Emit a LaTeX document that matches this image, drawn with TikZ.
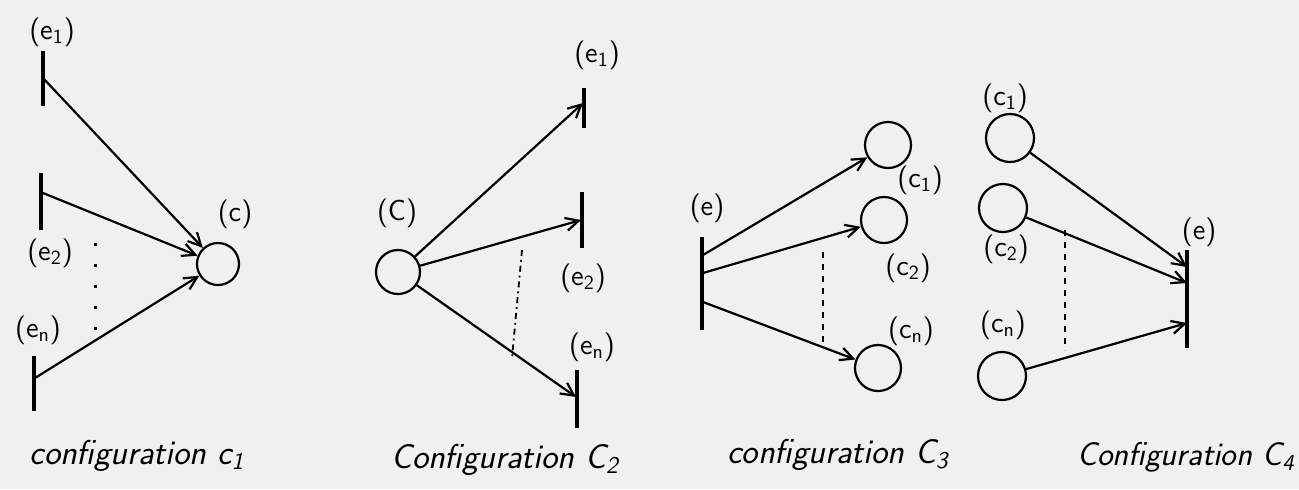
\documentclass[tikz,border=0pt]{standalone}
\usetikzlibrary{arrows.meta}
\begin{document}
\begin{tikzpicture}[x=0.5pt,y=-0.5pt,
  place/.style={draw,circle,line width=1.1pt,inner sep=0pt},
  bar/.style={fill=black,inner sep=0pt,minimum width=1.8pt},
  arc/.style={-{Straight Barb[length=6.5pt,width=6.5pt]},line width=1.1pt},
  lbl/.style={font=\sffamily\Large},
  captext/.style={font=\sffamily\itshape\LARGE},
  gap/.style={line width=1.1pt,dashed}
]
\useasboundingbox[fill=black!6] (0,0) rectangle (1299,489);

% configuration c1
\node[bar,minimum height=27.5pt] (bar-e1) at (43,78) {};
\node[bar,minimum height=28.5pt] (bar-e2) at (41,201) {};
\node[bar,minimum height=27.5pt] (bar-en) at (34,383) {};
\node[place,minimum size=21pt] (c) at (218,264) {};
\coordinate (e1-out) at (43,78);
\coordinate (e2-out) at (43,193);
\coordinate (en-out) at (35,378);
\node[lbl] (l-e1) at (52,32) {(e\textsubscript{1})};
\node[lbl] (l-e2) at (50,253) {(e\textsubscript{2})};
\node[lbl] (l-en) at (38,330) {(e\textsubscript{n})};
\node[lbl] (l-c) at (235,214) {(c)};
\draw[arc] (e1-out) -- (c);
\draw[arc] (e2-out) -- (c);
\draw[arc] (en-out) -- (c);
\coordinate (dots-top) at (95,243);
\coordinate (dots-bot) at (95,340);
\draw[line width=1.5pt,dash pattern=on 1.5pt off 9pt] (dots-top) -- (dots-bot);
\node[captext] (cap1) at (137,456) {configuration c\textsubscript{1}};

% configuration C2
\node[place,minimum size=22pt] (c2) at (398,272) {};
\node[bar,minimum height=20pt] (bar2-e1) at (584,108) {};
\node[bar,minimum height=28pt] (bar2-e2) at (582,220) {};
\node[bar,minimum height=29pt] (bar2-en) at (577,399) {};
\coordinate (e1-in) at (583,103);
\coordinate (e2-in) at (581,220);
\coordinate (en-in) at (576,397);
\node[lbl] (l2-c) at (397,213) {(C)};
\node[lbl] (l2-e1) at (597,55) {(e\textsubscript{1})};
\node[lbl] (l2-e2) at (583,278) {(e\textsubscript{2})};
\node[lbl] (l2-en) at (592,347) {(e\textsubscript{n})};
\draw[arc] (c2) -- (e1-in);
\draw[arc] (c2) -- (e2-in);
\draw[arc] (c2) -- (en-in);
\coordinate (dash2-top) at (522,250);
\coordinate (dash2-bot) at (512,358);
\draw[line width=0.9pt,dash dot] (dash2-top) -- (dash2-bot);
\node[captext] (cap2) at (505,460) {Configuration C\textsubscript{2}};

% configuration C3
\node[bar,minimum width=2.4pt,minimum height=46.5pt] (bar3-e) at (702,283) {};
\coordinate (e-out1) at (703,255);
\coordinate (e-out2) at (703,273);
\coordinate (e-out3) at (703,302);
\node[place,minimum size=23pt] (c3-1) at (888,145) {};
\node[place,minimum size=23pt] (c3-2) at (884,220) {};
\node[place,minimum size=23pt] (c3-n) at (878,368) {};
\node[lbl] (l3-e) at (707,208) {(e)};
\node[lbl] (l3-c1) at (920,180) {(c\textsubscript{1})};
\node[lbl] (l3-c2) at (908,268) {(c\textsubscript{2})};
\node[lbl] (l3-cn) at (911,331) {(c\textsubscript{n})};
\draw[arc] (e-out1) -- (c3-1);
\draw[arc] (e-out2) -- (c3-2);
\draw[arc] (e-out3) -- (c3-n);
\coordinate (dash3-top) at (823,252);
\coordinate (dash3-bot) at (823,342);
\draw[gap] (dash3-top) -- (dash3-bot);
\node[captext] (cap3) at (838,455) {configuration C\textsubscript{3}};

% configuration C4
\node[place,minimum size=24pt] (c4-1) at (1010,138) {};
\node[place,minimum size=24pt] (c4-2) at (1003,208) {};
\node[place,minimum size=24pt] (c4-n) at (1002,376) {};
\node[bar,minimum width=2.4pt,minimum height=49pt] (bar4-e) at (1187,299) {};
\coordinate (e-in1) at (1187,267);
\coordinate (e-in2) at (1187,283);
\coordinate (e-in3) at (1187,323);
\node[lbl] (l4-c1) at (1005,98) {(c\textsubscript{1})};
\node[lbl] (l4-c2) at (1006,249) {(c\textsubscript{2})};
\node[lbl] (l4-cn) at (1003,325) {(c\textsubscript{n})};
\node[lbl] (l4-e) at (1199,232) {(e)};
\draw[arc] (c4-1) -- (e-in1);
\draw[arc] (c4-2) -- (e-in2);
\draw[arc] (c4-n) -- (e-in3);
\coordinate (dash4-top) at (1065,230);
\coordinate (dash4-bot) at (1065,350);
\draw[gap] (dash4-top) -- (dash4-bot);
\node[captext,font=\sffamily\itshape\fontsize{16.5}{19}\selectfont] (cap4) at (1186,457) {Configuration C\textsubscript{4}};
\end{tikzpicture}
\end{document}
